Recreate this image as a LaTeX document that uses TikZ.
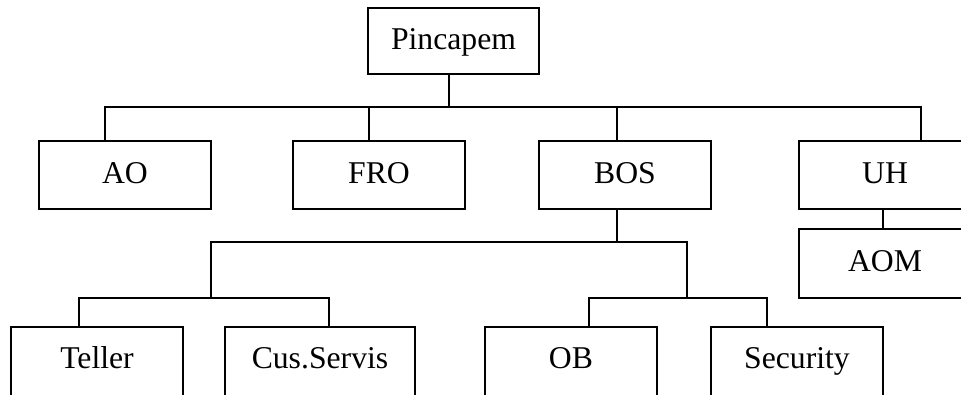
\documentclass[tikz,border=0pt]{standalone}
\usepackage{fontspec}
\setmainfont{Liberation Serif}
\usepackage{tikz}

\begin{document}
\begin{tikzpicture}[x=1pt, y=-1pt, line width=1.8pt, line cap=rect,
                orgbox/.style={draw, inner sep=0pt, minimum width=172pt, minimum height=68pt,
                    text height=21pt, text depth=5pt, font=\fontsize{31.7}{38}\selectfont},
                lowbox/.style={orgbox, minimum height=74pt, text depth=13pt}]
                \useasboundingbox (0,0) rectangle (961,394);
                \clip (0,0) rectangle (961,394);
                \node[orgbox, minimum width=171pt, minimum height=66pt] (pin) at (453.5,41) {Pincapem};
                \node[orgbox] (ao) at (125,175) {AO};
                \node[orgbox] (fro) at (379,175) {FRO};
                \node[orgbox] (bos) at (625,175) {BOS};
                \node[orgbox] (uh) at (885,175) {UH};
                \node[orgbox, minimum height=69pt] (aom) at (885,263.5) {AOM};
                \node[lowbox] (teller) at (97,364) {Teller};
                \node[lowbox, minimum width=190pt] (cus) at (320,364) {Cus.Servis};
                \node[lowbox] (ob) at (571,364) {OB};
                \node[lowbox] (sec) at (797,364) {Security};
                \coordinate (j0) at (449,107);
                \coordinate (j1) at (617,242);
                \coordinate (j2) at (211,298);
                \coordinate (j3) at (687,298);
                \draw (pin.south -| j0) -- (j0);
                \foreach \n/\x in {ao/105, fro/369, bos/617, uh/921}
                    \draw (\n.north -| \x,0) |- (j0);
                \draw (uh.south -| 883,0) -- (aom.north -| 883,0);
                \draw (bos.south -| j1) -- (j1);
                \draw (j2) |- (j1) -| (j3);
                \foreach \n/\x in {teller/79, cus/329}
                    \draw (\n.north -| \x,0) |- (j2);
                \foreach \n/\x in {ob/589, sec/767}
                    \draw (\n.north -| \x,0) |- (j3);
            \end{tikzpicture}
\end{document}
